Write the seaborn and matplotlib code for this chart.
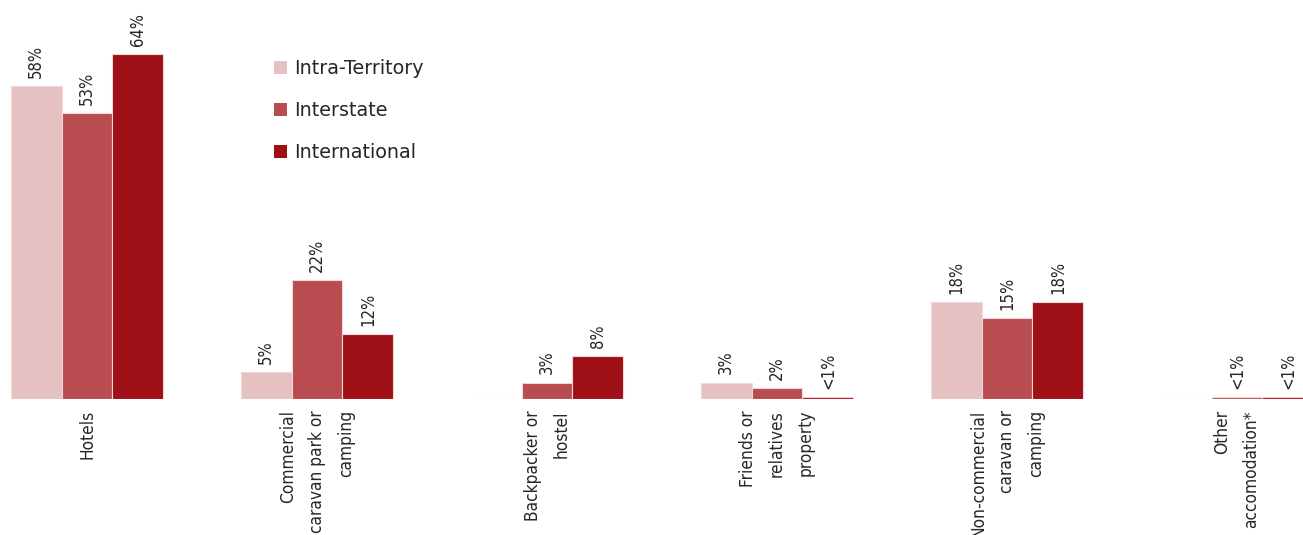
import matplotlib
matplotlib.use("Agg")
import matplotlib.pyplot as plt
import seaborn as sns
import pandas as pd
import numpy as np
from matplotlib.patches import Patch

categories = ["Hotels", "Commercial\ncaravan park or\ncamping", "Backpacker or\nhostel",
              "Friends or\nrelatives\nproperty", "Non-commercial\ncaravan or\ncamping",
              "Other\naccomodation*"]
series = ["Intra-Territory", "Interstate", "International"]
intra = [58, 5, 0, 3, 18, 0]
interstate = [53, 22, 3, 2, 15, 0.4]
international = [64, 12, 8, 0.4, 18, 0.4]
intra_lbl = ["58%", "5%", "", "3%", "18%", ""]
interstate_lbl = ["53%", "22%", "3%", "2%", "15%", "<1%"]
international_lbl = ["64%", "12%", "8%", "<1%", "18%", "<1%"]
colors = ["#E6C1C1", "#B84C50", "#9E0F16"]

sns.set_style("white")
plt.rcParams["font.family"] = ["DejaVu Sans"]
cond = dict(family="DejaVu Sans", stretch="condensed")

rows = []
for i, c in enumerate(categories):
    for s, vals in zip(series, [intra, interstate, international]):
        rows.append({"cat": c, "series": s, "value": vals[i]})
df = pd.DataFrame(rows)

fig = plt.figure(figsize=(13.03, 5.35), dpi=100)
ax = fig.add_axes([0, 136/535, 1, 399/535])
sns.barplot(data=df, x="cat", y="value", hue="series", order=categories,
            hue_order=series, palette=colors, saturation=1, width=0.665, gap=0,
            edgecolor="#F3D6D6", linewidth=0.8, ax=ax, legend=False)

ax.set_xlim(-87/230, (1303-87)/230)
ax.set_ylim(0, 399/5.39)
ax.set_xlabel("")
ax.set_ylabel("")
ax.set_yticks([])
for sp in ax.spines.values():
    sp.set_visible(False)

ax.set_xticks(range(len(categories)))
ax.set_xticklabels(categories, rotation=90, fontsize=12.4, linespacing=1.78, **cond)
for t in ax.get_xticklabels():
    t.set_multialignment("right")
ax.tick_params(axis="x", length=0, pad=8)

bw = 0.665 / 3
for j, (vals, lbls) in enumerate(zip([intra, interstate, international],
                                     [intra_lbl, interstate_lbl, international_lbl])):
    for i, (v, l) in enumerate(zip(vals, lbls)):
        if not l:
            continue
        x = i + (j - 1) * bw
        ax.annotate(l, (x, v), xytext=(0, 6), textcoords="offset points",
                    rotation=90, ha="center", va="bottom", fontsize=12, **cond)

handles = [Patch(facecolor=c, edgecolor="none") for c in colors]
leg = fig.legend(handles, series, loc="upper left", bbox_to_anchor=(257/1303, 1 - 42/535),
                 frameon=False, handlelength=0.68, handleheight=0.68, handletextpad=0.35,
                 labelspacing=1.2, prop={"family": "DejaVu Sans", "size": 13.8})

fig.savefig("out.png", dpi=100)
